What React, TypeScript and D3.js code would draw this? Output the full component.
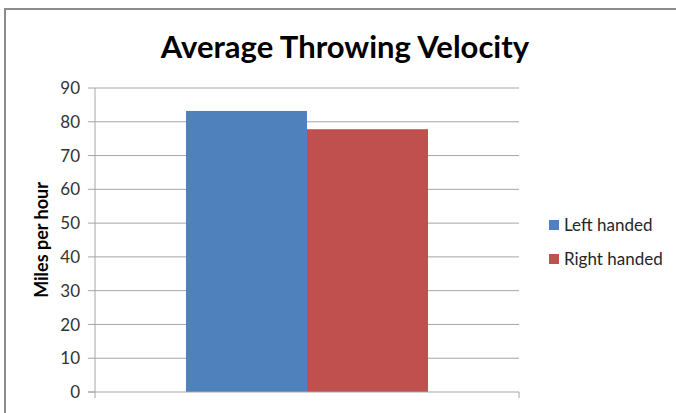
import React from 'react'
import * as d3 from 'd3'

const categories = ['']
const seriesNames = ['Left handed', 'Right handed']
const seriesColors = ['#4F81BD', '#C0504D']
const values = [[83.2], [77.8]] // per series, per category
const yTicks = [0, 10, 20, 30, 40, 50, 60, 70, 80, 90]

const W = 676
const H = 413
const margin = { left: 95, right: 519, top: 88, bottom: 392 }
const font = 'Lato, "Open Sans", sans-serif'

const App = () => {
    const y = d3.scaleLinear().domain([0, 90]).range([margin.bottom, margin.top])
    const x0 = d3.scaleBand<string>()
        .domain(categories)
        .range([margin.left, margin.right])
        .paddingInner(0)
        .paddingOuter(0.376)
    const x1 = d3.scaleBand<string>()
        .domain(seriesNames)
        .range([0, x0.bandwidth()])

    return (
        <div style={{ position: 'fixed', left: 0, top: 0 }}>
            <svg width={W} height={H} style={{ display: 'block', background: '#fff' }}>
                <rect x={5} y={9} width={W + 20} height={H + 20} fill="#fff" stroke="#8c8c8c" strokeWidth={2} />
                <text x={345} y={58} textAnchor="middle" fontFamily={font} fontWeight="bold" fontSize={31} fill="#000">
                    Average Throwing Velocity
                </text>

                {/* gridlines */}
                {yTicks.map(t => (
                    <g key={t}>
                        {t > 0 && <line x1={margin.left} x2={margin.right} y1={y(t)} y2={y(t)} stroke="#a6a6a6" strokeWidth={1} />}
                        <line x1={margin.left - 7} x2={margin.left} y1={y(t)} y2={y(t)} stroke="#a6a6a6" />
                        <text x={margin.left - 15} y={y(t)} dy="0.36em" textAnchor="end" fontFamily={font} fontSize={17} fill="#333">
                            {t}
                        </text>
                    </g>
                ))}

                {/* bars */}
                {categories.map((c, ci) => (
                    <g key={ci} transform={`translate(${x0(c)},0)`}>
                        {seriesNames.map((s, si) => (
                            <rect
                                key={s}
                                x={x1(s)}
                                y={y(values[si][ci])}
                                width={x1.bandwidth()}
                                height={y(0) - y(values[si][ci])}
                                fill={seriesColors[si]}
                            />
                        ))}
                    </g>
                ))}

                {/* axes */}
                <line x1={margin.left} x2={margin.left} y1={margin.top} y2={margin.bottom} stroke="#a6a6a6" />
                <line x1={margin.left - 7} x2={margin.right} y1={margin.bottom} y2={margin.bottom} stroke="#a6a6a6" />
                <line x1={margin.left} x2={margin.left} y1={margin.bottom} y2={margin.bottom + 6} stroke="#a6a6a6" />
                <line x1={margin.right} x2={margin.right} y1={margin.bottom} y2={margin.bottom + 6} stroke="#a6a6a6" />

                <text
                    transform={`translate(48,${(margin.top + margin.bottom) / 2}) rotate(-90)`}
                    textAnchor="middle"
                    fontFamily={font}
                    fontWeight="bold"
                    fontSize={18}
                    fill="#000"
                >
                    Miles per hour
                </text>

                {/* legend */}
                {seriesNames.map((s, i) => (
                    <g key={s} transform={`translate(549,${225 + i * 34})`}>
                        <rect x={0} y={-5} width={10} height={10} fill={seriesColors[i]} />
                        <text x={15} y={0} dy="0.36em" fontFamily={font} fontSize={17} fill="#262626">{s}</text>
                    </g>
                ))}
            </svg>
        </div>
    )
}

export default App
